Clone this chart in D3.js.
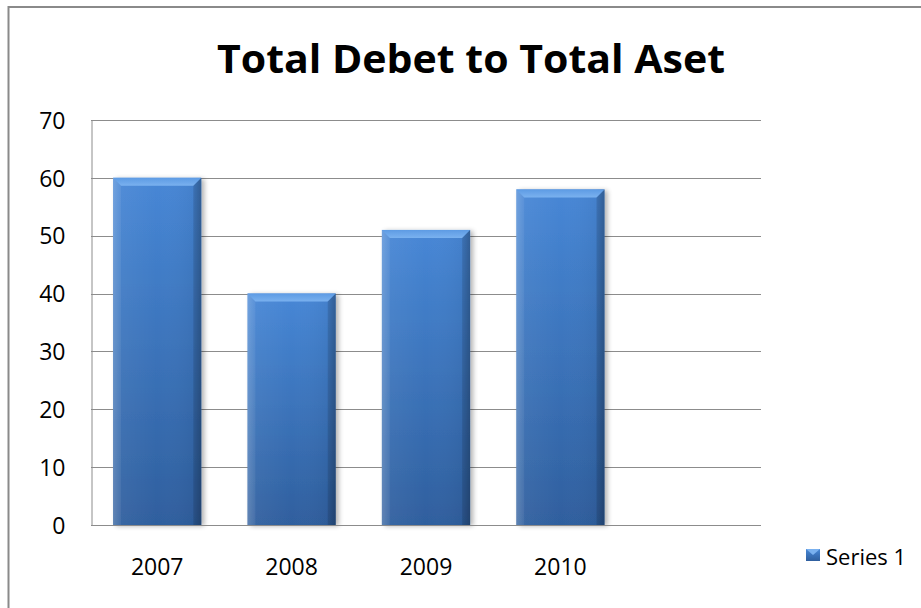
<!DOCTYPE html>
<html>
<head>
<meta charset="utf-8">
<script src="https://cdn.jsdelivr.net/npm/d3@7/dist/d3.min.js"></script>
<style>
  html, body { margin: 0; padding: 0; background: #fff; }
  svg { display: block; }
  text { font-family: "Open Sans", "Liberation Sans", sans-serif; fill: #000; }
</style>
</head>
<body>
<svg id="chart" width="921" height="608"></svg>
<script>
// Chart data
const categories = ["2007", "2008", "2009", "2010", ""];
const seriesName = "Series 1";
const values = [60, 40, 51, 58];
const yTicks = [0, 10, 20, 30, 40, 50, 60, 70];
const chartTitle = "Total Debet to Total Aset";

const svg = d3.select("#chart");
const W = 921, H = 608;
const plot = { left: 91, right: 761, top: 120, bottom: 525 };

// Outer chart frame
svg.append("rect")
  .attr("x", 8.5).attr("y", 7).attr("width", W + 20).attr("height", H + 20)
  .attr("fill", "#fff").attr("stroke", "#8a8a8a").attr("stroke-width", 2);

const defs = svg.append("defs");
const body = defs.append("linearGradient").attr("id", "barBody")
  .attr("x1", 0).attr("y1", 0).attr("x2", 0).attr("y2", 1);
body.append("stop").attr("offset", "0%").attr("stop-color", "#4787d6");
body.append("stop").attr("offset", "100%").attr("stop-color", "#2f5f9e");

const side = defs.append("linearGradient").attr("id", "barSide")
  .attr("x1", 0).attr("y1", 0).attr("x2", 1).attr("y2", 0);
side.append("stop").attr("offset", "0%").attr("stop-color", "#ffffff").attr("stop-opacity", 0.18);
side.append("stop").attr("offset", "9%").attr("stop-color", "#ffffff").attr("stop-opacity", 0.05);
side.append("stop").attr("offset", "50%").attr("stop-color", "#ffffff").attr("stop-opacity", 0);
side.append("stop").attr("offset", "90%").attr("stop-color", "#000000").attr("stop-opacity", 0.04);
side.append("stop").attr("offset", "100%").attr("stop-color", "#000000").attr("stop-opacity", 0.22);

const topG = defs.append("linearGradient").attr("id", "barTop")
  .attr("x1", 0).attr("y1", 0).attr("x2", 0).attr("y2", 1);
topG.append("stop").attr("offset", "0%").attr("stop-color", "#5d9be4");
topG.append("stop").attr("offset", "100%").attr("stop-color", "#7ab1ef");

const shadowF = defs.append("filter").attr("id", "barShadow")
  .attr("x", "-20%").attr("y", "-5%").attr("width", "150%").attr("height", "115%");
shadowF.append("feGaussianBlur").attr("in", "SourceAlpha").attr("stdDeviation", 2.5).attr("result", "b");
shadowF.append("feOffset").attr("in", "b").attr("dx", 3).attr("dy", 1).attr("result", "o");
shadowF.append("feComponentTransfer").attr("in", "o").attr("result", "s")
  .append("feFuncA").attr("type", "linear").attr("slope", 0.3);
const merge = shadowF.append("feMerge");
merge.append("feMergeNode").attr("in", "s");
merge.append("feMergeNode").attr("in", "SourceGraphic");

// Scales
const x = d3.scaleBand().domain(categories).range([plot.left, plot.right])
  .paddingInner(0.343).paddingOuter(0.164);
const y = d3.scaleLinear().domain([0, 70]).range([plot.bottom, plot.top]);

// Gridlines
svg.append("g").selectAll("line").data(yTicks).join("line")
  .attr("x1", plot.left).attr("x2", plot.right)
  .attr("y1", d => Math.round(y(d)) + 0.5).attr("y2", d => Math.round(y(d)) + 0.5)
  .attr("stroke", "#8c8c8c").attr("stroke-width", 1);

// Y axis
const yAxis = svg.append("g").attr("transform", `translate(${plot.left + 0.5},0)`)
  .call(d3.axisLeft(y).tickValues(yTicks).tickSize(0).tickPadding(26));
yAxis.select(".domain").attr("stroke", "#8c8c8c");
yAxis.selectAll("text").attr("font-size", 23).style("font-family", "'Open Sans', sans-serif")
  .attr("dy", "0.36em");

// X axis labels
const xAxis = svg.append("g").attr("transform", `translate(0,${plot.bottom})`)
  .call(d3.axisBottom(x).tickSize(0).tickPadding(50));
xAxis.select(".domain").remove();
xAxis.selectAll("text").attr("font-size", 23).style("font-family", "'Open Sans', sans-serif")
  .attr("dy", "0");

// Bars with bevel
const bars = svg.append("g").selectAll("g.bar")
  .data(values.map((v, i) => ({ cat: categories[i], v })))
  .join("g").attr("class", "bar");

bars.each(function (d) {
  const g = d3.select(this);
  const bx = x(d.cat), bw = x.bandwidth();
  const by = y(d.v), bh = y(0) - y(d.v);
  const bev = 8;
  g.append("rect").attr("x", bx).attr("y", by).attr("width", bw).attr("height", bh)
    .attr("fill", "url(#barBody)").attr("filter", "url(#barShadow)");
  g.append("rect").attr("x", bx).attr("y", by).attr("width", bw).attr("height", bh)
    .attr("fill", "url(#barSide)");
  // top bevel
  g.append("path")
    .attr("d", `M${bx},${by} L${bx + bw},${by} L${bx + bw - bev},${by + bev} L${bx + bev},${by + bev} Z`)
    .attr("fill", "url(#barTop)");
  // left bevel
  g.append("path")
    .attr("d", `M${bx},${by} L${bx + bev},${by + bev} L${bx + bev},${by + bh} L${bx},${by + bh} Z`)
    .attr("fill", "#ffffff").attr("opacity", 0.06);
  // right bevel
  g.append("path")
    .attr("d", `M${bx + bw},${by} L${bx + bw - bev},${by + bev} L${bx + bw - bev},${by + bh} L${bx + bw},${by + bh} Z`)
    .attr("fill", "#000000").attr("opacity", 0.1);
});

// Baseline over the bars
svg.append("line")
  .attr("x1", plot.left).attr("x2", plot.right)
  .attr("y1", Math.round(y(0)) + 0.5).attr("y2", Math.round(y(0)) + 0.5)
  .attr("stroke", "#8c8c8c");

// Title
svg.append("text").attr("x", 471).attr("y", 73).attr("text-anchor", "middle")
  .attr("font-size", 40).attr("font-weight", "bold")
  .attr("textLength", 508).attr("lengthAdjust", "spacingAndGlyphs")
  .text(chartTitle);

// Legend
const lg = svg.append("g").attr("transform", "translate(806,549)");
lg.append("rect").attr("width", 14).attr("height", 12).attr("fill", "url(#barBody)");
lg.append("path").attr("d", "M0,0 L14,0 L7,6 Z").attr("fill", "#7ab1ef");
lg.append("text").attr("x", 20).attr("y", 16).attr("font-size", 22).text(seriesName);
</script>
</body>
</html>
